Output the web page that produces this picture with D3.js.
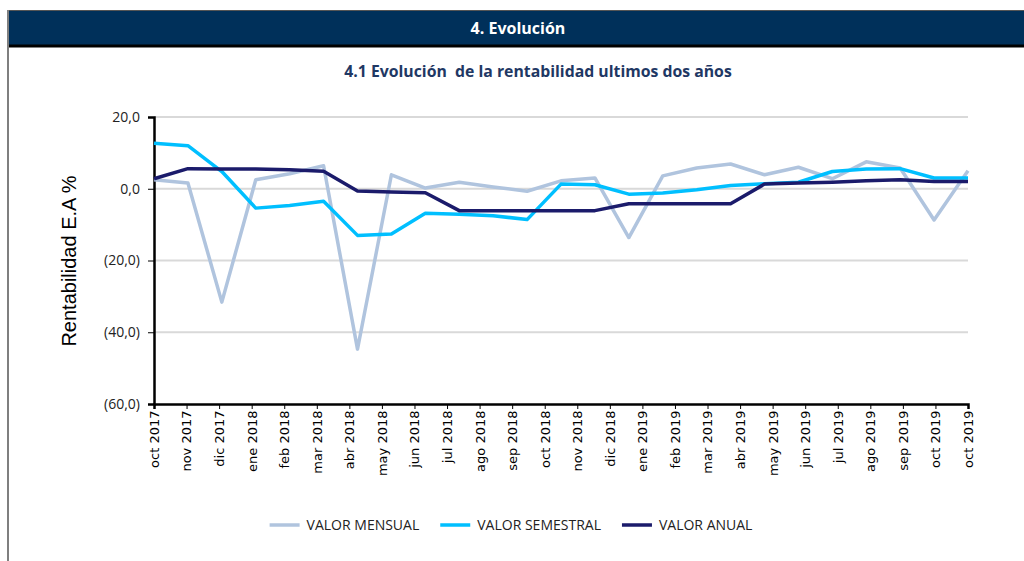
<!DOCTYPE html>
<html>
<head>
<meta charset="utf-8">
<script src="https://cdn.jsdelivr.net/npm/d3@7"></script>
<style>
  body { margin: 0; background: #fff; }
  svg { display: block; }
</style>
</head>
<body>
<div id="chart"></div>
<script>
// Data
var months = ["oct 2017", "nov 2017", "dic 2017", "ene 2018", "feb 2018", "mar 2018", "abr 2018",
  "may 2018", "jun 2018", "jul 2018", "ago 2018", "sep 2018", "oct 2018", "nov 2018", "dic 2018",
  "ene 2019", "feb 2019", "mar 2019", "abr 2019", "may 2019", "jun 2019", "jul 2019", "ago 2019",
  "sep 2019", "oct 2019"];

// the category axis in the original carries one more label than there are points
var tickLabels = months.concat(["oct 2019"]);

var valorMensual = [2.5, 1.6, -31.6, 2.5, 4.2, 6.4, -44.7, 3.9, 0.2, 1.8, 0.5, -0.7, 2.2,
  3.0, -13.6, 3.6, 5.8, 6.9, 3.9, 6.0, 2.8, 7.5, 5.8, -8.7, 5.0];
var valorSemestral = [12.7, 12.0, 4.8, -5.4, -4.7, -3.5, -13.0, -12.6, -6.8, -7.1, -7.5, -8.6, 1.3,
  1.1, -1.5, -1.2, -0.3, 0.9, 1.4, 1.8, 4.8, 5.5, 5.6, 3.0, 3.0];
var valorAnual = [2.8, 5.6, 5.5, 5.5, 5.3, 4.9, -0.6, -0.9, -1.1, -6.1, -6.1, -6.1, -6.1,
  -6.1, -4.2, -4.2, -4.2, -4.2, 1.3, 1.6, 1.8, 2.2, 2.5, 2.0, 2.0];

var yTicks = [20, 0, -20, -40, -60];

var seriesNames = ["VALOR MENSUAL", "VALOR SEMESTRAL", "VALOR ANUAL"];
var seriesColors = ["#b0c4de", "#00bfff", "#1b1b6b"];

var svgWidth = 1024;
var svgHeight = 561;

var margin = {
  top: 117,
  right: 56,
  bottom: 157,
  left: 154
};

var width = svgWidth - margin.left - margin.right;
var height = svgHeight - margin.top - margin.bottom;

var svg = d3.select("#chart")
  .append("svg")
  .attr("width", svgWidth)
  .attr("height", svgHeight);

// Header band
svg.append("rect")
  .attr("x", 8)
  .attr("y", 10)
  .attr("width", svgWidth)
  .attr("height", 35)
  .attr("fill", "#00305a");

svg.append("line")
  .attr("x1", 8).attr("x2", svgWidth)
  .attr("y1", 10.5).attr("y2", 10.5)
  .attr("stroke", "#555")
  .attr("stroke-width", 1);

svg.append("line")
  .attr("x1", 8).attr("x2", svgWidth)
  .attr("y1", 46).attr("y2", 46)
  .attr("stroke", "#000")
  .attr("stroke-width", 3);

svg.append("line")
  .attr("x1", 8).attr("x2", 8)
  .attr("y1", 10).attr("y2", svgHeight)
  .attr("stroke", "#7f7f7f")
  .attr("stroke-width", 2);

svg.append("text")
  .attr("x", 518)
  .attr("y", 34)
  .attr("text-anchor", "middle")
  .attr("font-family", "'Open Sans', sans-serif")
  .attr("font-size", "16px")
  .attr("font-weight", "bold")
  .attr("fill", "#fff")
  .text("4. Evolución");

// Chart title
svg.append("text")
  .attr("x", 538)
  .attr("y", 77)
  .attr("text-anchor", "middle")
  .attr("font-family", "'Open Sans', sans-serif")
  .attr("font-size", "15.8px")
  .attr("font-weight", "bold")
  .attr("fill", "#1f3864")
  .style("white-space", "pre")
  .text("4.1 Evolución  de la rentabilidad ultimos dos años");

var chartGroup = svg.append("g")
  .attr("transform", `translate(${margin.left}, ${margin.top})`);

// Scales
var xScale = d3.scalePoint()
  .domain(d3.range(months.length))
  .range([0, width]);

var xTickScale = d3.scalePoint()
  .domain(d3.range(tickLabels.length))
  .range([0, width]);

var yScale = d3.scaleLinear()
  .domain([-60, 20])
  .range([height, 0]);

function fmt(v) {
  var s = d3.format(".1f")(Math.abs(v)).replace(".", ",");
  return v < 0 ? "(" + s + ")" : s;
}

// Gridlines
chartGroup.append("g")
  .selectAll("line")
  .data(yTicks.filter(d => d !== -60))
  .enter()
  .append("line")
  .attr("x1", 0)
  .attr("x2", width)
  .attr("y1", d => yScale(d))
  .attr("y2", d => yScale(d))
  .attr("stroke", "#d9d9d9")
  .attr("stroke-width", 2);

// Y axis
var leftAxis = d3.axisLeft(yScale)
  .tickValues(yTicks)
  .tickSize(6)
  .tickPadding(8)
  .tickFormat(fmt);

var yAxis = chartGroup.append("g")
  .call(leftAxis);

yAxis.select(".domain").attr("stroke-width", 2.5);
yAxis.selectAll("text")
  .attr("font-family", "'Open Sans', sans-serif")
  .attr("font-size", "14px")
  .attr("fill", "#222");

// X axis
var bottomAxis = d3.axisBottom(xTickScale)
  .tickSize(5)
  .tickFormat(i => tickLabels[i]);

var xAxis = chartGroup.append("g")
  .attr("transform", `translate(0, ${height})`)
  .call(bottomAxis);

xAxis.select(".domain").attr("stroke-width", 2.5);
xAxis.selectAll("text")
  .attr("font-family", "'DejaVu Sans', sans-serif")
  .attr("font-size", "13px")
  .attr("fill", "#000")
  .attr("text-anchor", "end")
  .attr("dx", "-0.5em")
  .attr("dy", "0.34em")
  .attr("transform", "rotate(-90)")
  .attr("x", 0)
  .attr("y", 0);

// Y axis title
svg.append("text")
  .attr("transform", "translate(76, 261) rotate(-90)")
  .attr("text-anchor", "middle")
  .attr("font-family", "'Liberation Sans', Arial, sans-serif")
  .attr("font-size", "20px")
  .attr("fill", "#000")
  .text("Rentabilidad E.A %");

// Lines
var line = d3.line()
  .x((d, i) => xScale(i))
  .y(d => yScale(d));

var allSeries = [valorMensual, valorSemestral, valorAnual];

chartGroup.selectAll(".serie")
  .data(allSeries)
  .enter()
  .append("path")
  .attr("class", "serie")
  .attr("d", d => line(d))
  .attr("fill", "none")
  .attr("stroke", (d, i) => seriesColors[i])
  .attr("stroke-width", 3.5)
  .attr("stroke-linejoin", "round");

// Legend
var legend = svg.append("g")
  .attr("transform", "translate(0, 525)");

var legendItems = legend.selectAll("g")
  .data(seriesNames)
  .enter()
  .append("g");

legendItems.append("line")
  .attr("x1", 0)
  .attr("x2", 30)
  .attr("y1", 0)
  .attr("y2", 0)
  .attr("stroke", (d, i) => seriesColors[i])
  .attr("stroke-width", 3.5);

legendItems.append("text")
  .attr("x", 37)
  .attr("y", 5)
  .attr("font-family", "'Open Sans', sans-serif")
  .attr("font-size", "14px")
  .attr("fill", "#222")
  .text(d => d);

// lay out the legend items side by side, centered under the chart
var offsets = [];
var total = 0;
legendItems.each(function() {
  var w = 37 + d3.select(this).select("text").node().getComputedTextLength();
  offsets.push(total);
  total += w + 21;
});
total -= 21;
var startX = 511 - total / 2;
legendItems.attr("transform", (d, i) => `translate(${startX + offsets[i]}, 0)`);
</script>
</body>
</html>
